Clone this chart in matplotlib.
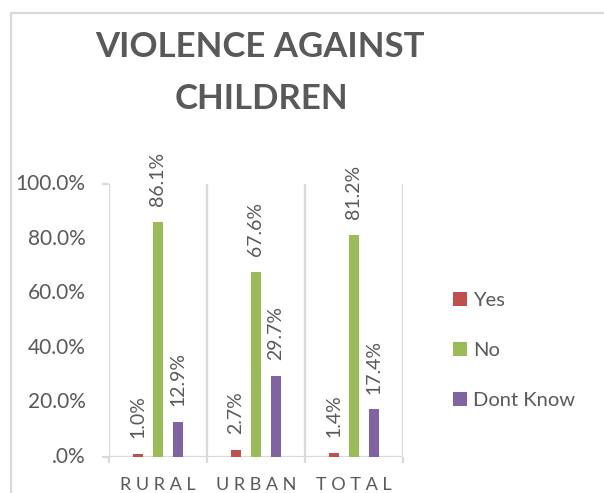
import matplotlib
matplotlib.use("Agg")
import matplotlib.pyplot as plt
from matplotlib.patches import Rectangle, Patch
import numpy as np

# Survey responses by area
categories = ["RURAL", "URBAN", "TOTAL"]
series_names = ["Yes", "No", "Dont Know"]
yes_vals = [1.0, 2.7, 1.4]
no_vals = [86.1, 67.6, 81.2]
dont_know_vals = [12.9, 29.7, 17.4]
y_ticks = [0, 20, 40, 60, 80, 100]
y_tick_labels = [".0%", "20.0%", "40.0%", "60.0%", "80.0%", "100.0%"]

colors = ["#C0504D", "#9BBB59", "#8064A2"]
text_gray = "#595959"
grid_gray = "#D9D9D9"
font = "Lato"

W, H = 604, 493
fig = plt.figure(figsize=(W / 100, H / 100), dpi=100)
fig.patch.set_facecolor("white")

def fx(px):
    return px / W

def fy(py):
    return 1 - py / H

# Surrounding document line (mostly above the page edge)
fig.text(fx(20), fy(-7), "ry determine and validate the data separately into",
         family="Liberation Serif", fontsize=21, color="black",
         ha="left", va="baseline")

# Chart frame
fig.patches.append(Rectangle((fx(11), -0.1), 1.2, fy(13) + 0.1,
                             transform=fig.transFigure, fill=False,
                             edgecolor=grid_gray, linewidth=1.6, zorder=0))

# Title
fig.text(fx(260), fy(47), "VIOLENCE AGAINST", family=font, weight="bold",
         fontsize=25, color=text_gray, ha="center", va="center")
fig.text(fx(261), fy(99), "CHILDREN", family=font, weight="bold",
         fontsize=25, color=text_gray, ha="center", va="center")

ax = fig.add_axes([fx(109), fy(457), fx(403) - fx(109), fy(184) - fy(457)])
ax.set_xlim(-0.5, 2.5)
ax.set_ylim(0, 100)

x = np.arange(len(categories))
offset = 0.204
width = 0.109
all_series = [yes_vals, no_vals, dont_know_vals]
for i, (vals, col) in enumerate(zip(all_series, colors)):
    pos = x + (i - 1) * offset
    ax.bar(pos, vals, width=width, color=col, zorder=3)
    for p, v in zip(pos, vals):
        ax.annotate(f"{v:.1f}%", xy=(p, v), xytext=(0, 11.5),
                    textcoords="offset points", rotation=90,
                    ha="center", va="bottom", family=font, fontsize=14,
                    color=text_gray, annotation_clip=False)

# Category separators
for b in [-0.5, 0.5, 1.5, 2.5]:
    ax.axvline(b, ymin=0, ymax=1, color=grid_gray, linewidth=1.6, zorder=1)

for s in ax.spines.values():
    s.set_visible(False)
ax.axhline(0, color=grid_gray, linewidth=1.6, zorder=2)

ax.set_yticks([0, 100])
ax.set_yticklabels(["", ""])
ax.tick_params(axis="y", length=5, width=1.6, color=grid_gray, direction="out")
for yt, lab in zip(y_ticks, y_tick_labels):
    ax.annotate(lab, xy=(0, yt), xycoords=("axes fraction", "data"),
                xytext=(-17, 0), textcoords="offset points",
                ha="right", va="center", family=font, fontsize=15,
                color=text_gray, annotation_clip=False)

ax.set_xticks([-0.5, 0.5, 1.5, 2.5])
ax.set_xticklabels([""] * 4)
ax.tick_params(axis="x", length=4.5, width=1.6, color=grid_gray, direction="out")
for xi, cat in zip(x, categories):
    ax.annotate(" ".join(cat), xy=(xi, 0), xycoords="data",
                xytext=(0, -14.5), textcoords="offset points",
                ha="center", va="top", family=font, fontsize=13,
                color=text_gray, annotation_clip=False)

handles = [Patch(facecolor=c, edgecolor="none") for c in colors]
fig.legend(handles, series_names, loc="upper left",
           bbox_to_anchor=(fx(453), fy(292)), frameon=False,
           prop={"family": font, "size": 14.5}, labelcolor=text_gray,
           handlelength=0.7, handleheight=0.7, handletextpad=0.3,
           labelspacing=1.63, borderpad=0, borderaxespad=0)

fig.savefig("out.png", dpi=100, facecolor="white")
